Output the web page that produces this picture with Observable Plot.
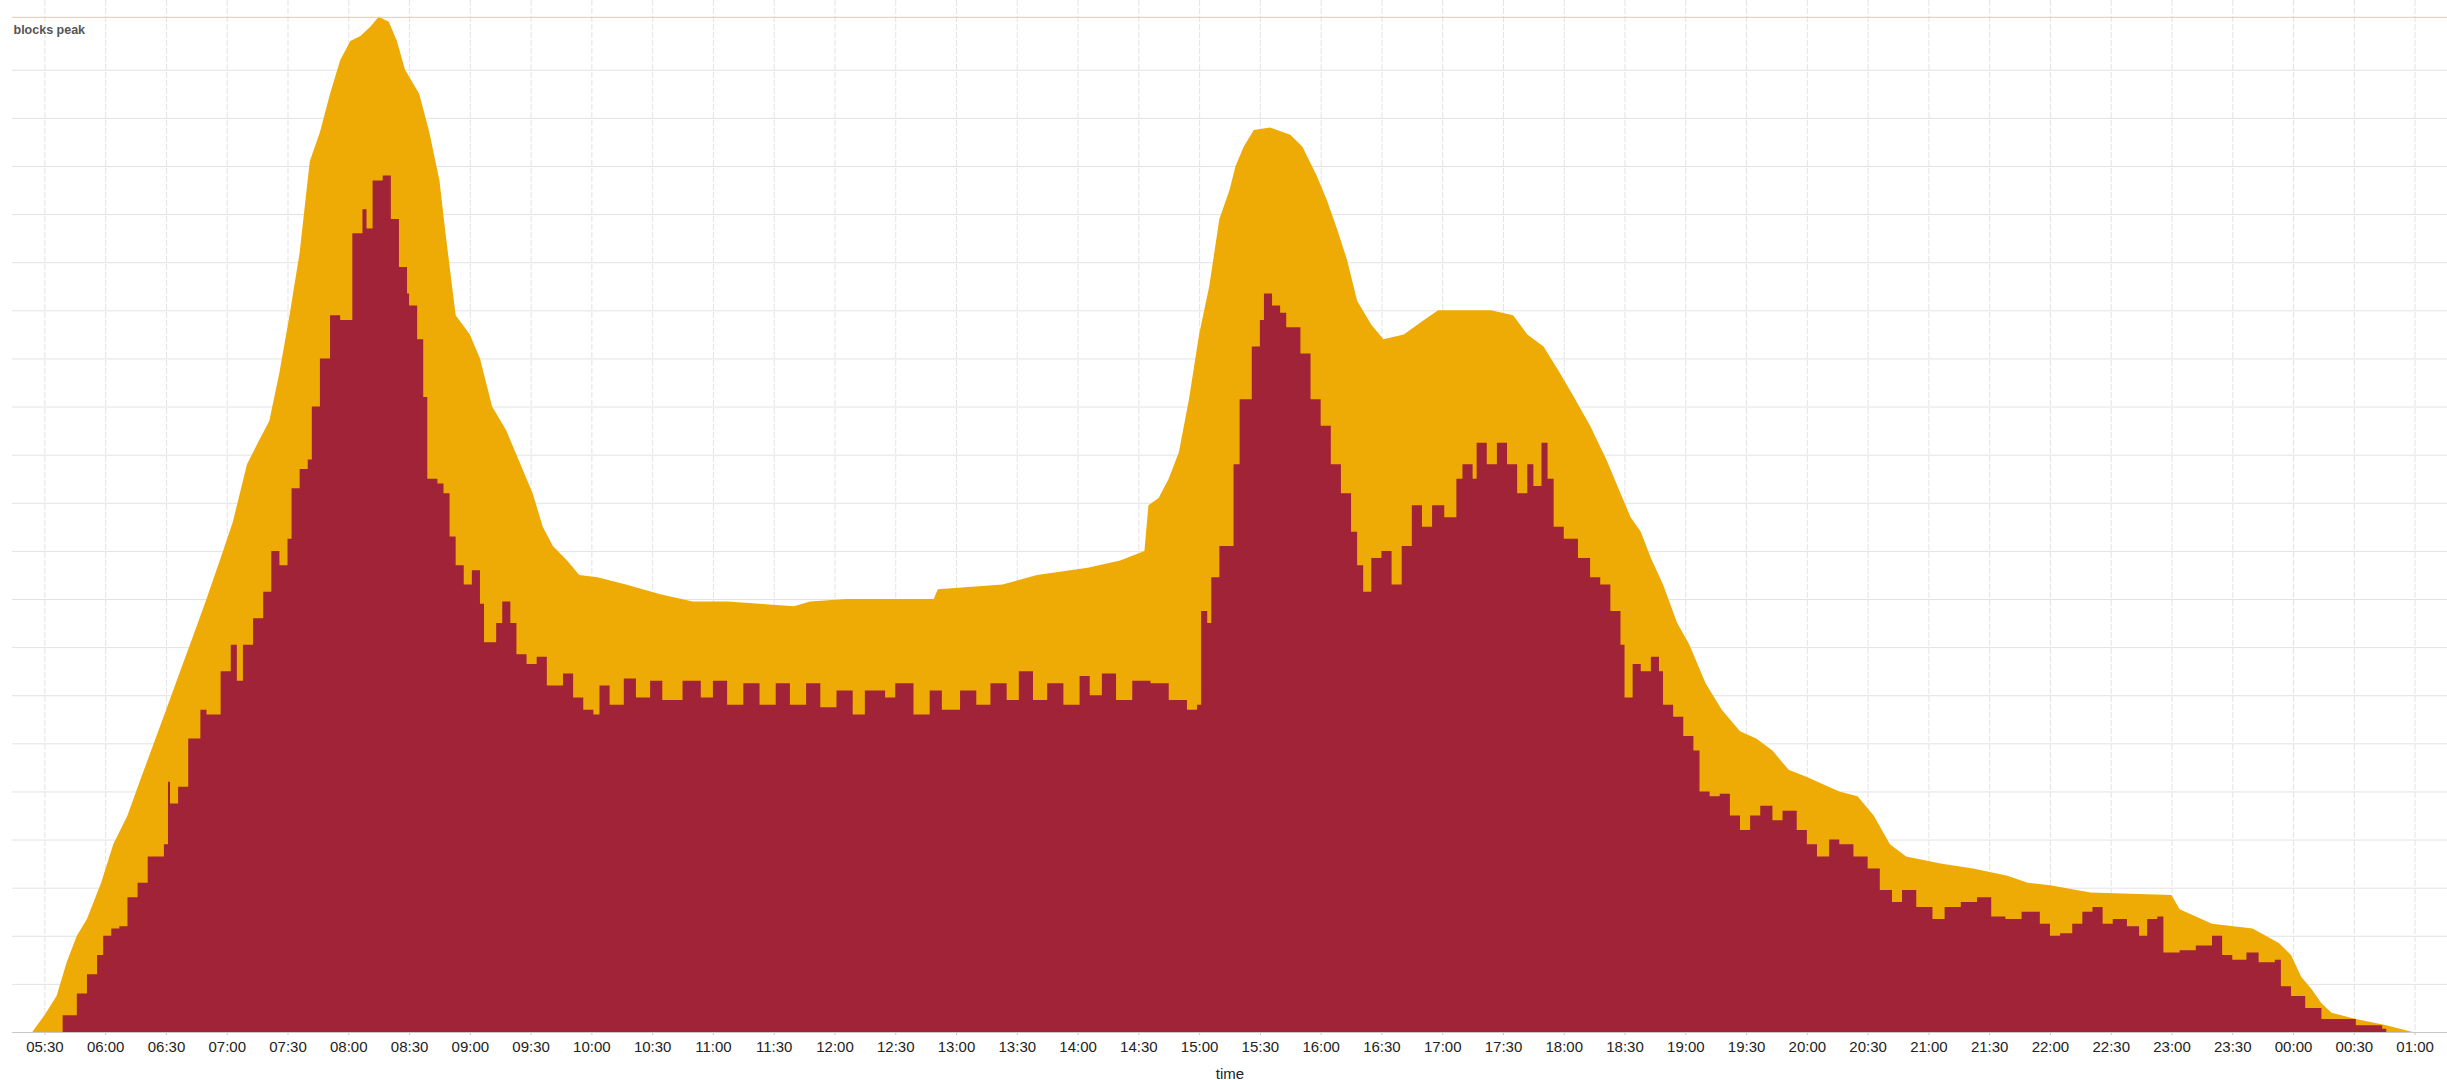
<!DOCTYPE html>
<html><head><meta charset="utf-8">
<script src="https://cdn.jsdelivr.net/npm/d3@7"></script>
<script src="https://cdn.jsdelivr.net/npm/@observablehq/plot@0.6"></script>
<style>
html,body{margin:0;padding:0;background:#fff;}
#chart{position:absolute;left:11px;top:0;}
#chart svg{display:block;background:linear-gradient(to bottom,#fff 0,#fff 1032px,#efefef 1032px,#efefef 100%);}
</style></head><body><div id="chart"></div>
<script>
// x-axis tick labels (every 30 minutes)
const tickLabels = ["05:30","06:00","06:30","07:00","07:30","08:00","08:30","09:00","09:30","10:00","10:30","11:00","11:30","12:00","12:30","13:00","13:30","14:00","14:30","15:00","15:30","16:00","16:30","17:00","17:30","18:00","18:30","19:00","19:30","20:00","20:30","21:00","21:30","22:00","22:30","23:00","23:30","00:00","00:30","01:00"];
const xStart = "05:14";
const xEnd = "01:16";

// upper (orange) series: time, blocks
const peakTimes = ["05:24","05:30","05:36","05:41","05:46","05:51","05:58","06:04","06:11","06:17","06:24","06:31","06:37","06:44","06:50","06:57","07:03","07:10","07:16","07:21","07:26","07:31","07:36","07:41","07:46","07:51","07:56","08:01","08:06","08:11","08:15","08:20","08:24","08:28","08:35","08:40","08:45","08:48","08:53","09:00","09:05","09:11","09:18","09:25","09:31","09:36","09:41","09:48","09:54","10:03","10:17","10:34","10:50","11:07","11:23","11:40","11:48","12:06","12:49","12:51","13:23","13:40","14:05","14:21","14:33","14:35","14:40","14:45","14:50","14:55","15:00","15:05","15:10","15:15","15:18","15:22","15:27","15:35","15:45","15:51","15:58","16:03","16:08","16:13","16:18","16:25","16:31","16:41","16:51","16:58","17:10","17:24","17:35","17:42","17:50","17:58","18:05","18:13","18:21","18:28","18:33","18:38","18:43","18:49","18:56","19:02","19:10","19:18","19:27","19:35","19:43","19:51","20:00","20:08","20:16","20:25","20:33","20:41","20:49","21:06","21:22","21:39","21:49","22:00","22:20","23:00","23:04","23:20","23:40","23:53","23:59","00:04","00:09","00:14","00:19","00:31","00:46","00:59"];
const peakValues = [0,35,75,145,200,235,310,390,450,520,600,680,750,830,900,985,1060,1180,1230,1270,1370,1490,1620,1810,1870,1950,2020,2060,2070,2090,2110,2100,2060,2000,1950,1870,1770,1660,1490,1450,1400,1300,1250,1180,1120,1050,1010,980,950,945,930,910,895,895,890,885,895,900,900,920,930,950,965,980,1000,1095,1110,1150,1205,1315,1450,1550,1690,1750,1800,1840,1875,1880,1865,1840,1780,1730,1670,1605,1520,1470,1440,1450,1480,1500,1500,1500,1490,1450,1425,1370,1320,1260,1190,1120,1070,1040,985,930,850,805,725,670,625,610,585,545,530,515,500,490,450,390,365,350,340,325,310,305,290,285,255,225,215,185,160,115,90,60,40,27,14,0];

// lower (red) series: time, blocks
const usedTimes = ["05:39","05:46","05:51","05:56","05:59","06:03","06:07","06:11","06:16","06:21","06:26","06:29","06:31","06:32","06:36","06:41","06:47","06:50","06:57","07:02","07:05","07:08","07:13","07:18","07:22","07:26","07:30","07:32","07:36","07:40","07:42","07:46","07:51","07:56","07:59","08:02","08:07","08:09","08:12","08:17","08:21","08:25","08:29","08:30","08:34","08:37","08:39","08:44","08:47","08:50","08:53","08:57","09:01","09:05","09:07","09:13","09:16","09:20","09:23","09:28","09:33","09:38","09:46","09:51","09:56","10:01","10:04","10:09","10:16","10:22","10:29","10:35","10:45","10:54","11:00","11:07","11:15","11:23","11:31","11:38","11:46","11:53","12:01","12:09","12:15","12:25","12:30","12:39","12:47","12:53","13:02","13:10","13:17","13:25","13:31","13:38","13:45","13:53","14:01","14:06","14:12","14:19","14:27","14:36","14:45","14:54","14:59","15:01","15:04","15:06","15:10","15:14","15:17","15:20","15:23","15:26","15:30","15:32","15:36","15:40","15:43","15:46","15:50","15:55","16:00","16:05","16:10","16:15","16:18","16:21","16:25","16:30","16:35","16:40","16:45","16:50","16:55","17:01","17:07","17:10","17:15","17:17","17:22","17:27","17:32","17:37","17:42","17:45","17:49","17:52","17:55","18:00","18:07","18:13","18:18","18:23","18:28","18:30","18:34","18:38","18:43","18:47","18:49","18:54","18:59","19:04","19:07","19:12","19:17","19:22","19:27","19:32","19:37","19:43","19:48","19:55","20:00","20:05","20:11","20:16","20:23","20:30","20:36","20:42","20:47","20:54","21:02","21:08","21:16","21:24","21:31","21:38","21:46","21:55","22:00","22:05","22:11","22:16","22:21","22:26","22:31","22:38","22:44","22:48","22:53","22:56","23:04","23:12","23:20","23:25","23:30","23:37","23:43","23:51","23:54","23:59","00:06","00:14","00:31","00:44","00:46"];
const usedValues = [35,80,120,160,200,215,220,280,310,365,365,390,520,475,510,610,670,660,750,805,730,805,860,915,1000,970,1025,1130,1170,1190,1300,1400,1490,1480,1480,1660,1710,1670,1770,1780,1690,1590,1535,1510,1440,1320,1150,1140,1120,1030,970,930,960,890,810,850,895,850,785,765,780,720,745,695,670,660,720,680,735,695,730,690,730,695,730,680,725,680,725,680,725,675,710,660,710,695,725,660,710,670,710,680,725,690,750,690,725,680,740,700,745,690,730,725,690,670,680,875,850,945,1010,1010,1180,1315,1315,1425,1480,1535,1510,1495,1465,1465,1410,1315,1260,1180,1120,1040,970,915,985,1000,930,1010,1095,1050,1095,1070,1150,1180,1150,1225,1180,1225,1180,1120,1180,1135,1225,1150,1050,1025,985,945,930,875,805,695,765,750,780,750,680,655,615,585,500,490,495,450,420,450,470,440,460,420,390,365,400,390,365,340,295,270,295,260,235,260,270,280,240,235,250,225,200,205,225,250,260,225,235,220,200,235,240,165,170,180,200,160,150,165,145,150,95,75,50,27,14,7,0];

const gridStep = 100;
const gridMax = 2000;

function toDate(s) {
  const [h, m] = s.split(":").map(Number);
  return new Date(Date.UTC(2024, 0, h < 5 ? 2 : 1, h, m));
}
const peakData = peakTimes.map((t, i) => ({t: toDate(t), v: peakValues[i]}));
const usedData = usedTimes.map((t, i) => ({t: toDate(t), v: usedValues[i]}));
const tickDates = tickLabels.map(toDate);
const peak = d3.max(peakValues);

const chart = Plot.plot({
  width: 2436,
  height: 1080,
  marginLeft: 1,
  marginRight: 0,
  marginTop: 0,
  marginBottom: 48,
  style: {background: "transparent", fontFamily: "'Liberation Sans', Arial, sans-serif"},
  x: {type: "utc", domain: [toDate(xStart), toDate(xEnd)], label: null},
  y: {domain: [0, 2145], axis: null},
  marks: [
    Plot.gridX(tickDates, {stroke: "#e3e3e3", strokeOpacity: 1, strokeDasharray: "6,2"}),
    Plot.gridY(d3.range(gridStep, gridMax + 1, gridStep), {stroke: "#e3e3e3", strokeOpacity: 1}),
    Plot.areaY(peakData, {x: "t", y: "v", curve: "linear", fill: "#EEAA05"}),
    Plot.areaY(usedData, {x: "t", y: "v", curve: "step-after", fill: "#A02337"}),
    Plot.ruleY([peak], {stroke: "#f6c3a0", strokeWidth: 1}),
    Plot.ruleY([0], {stroke: "#c9c9c9"}),
    Plot.text([{label: "blocks peak", v: peak}], {y: "v", text: "label", frameAnchor: "left", textAnchor: "start", dx: 1, dy: 13, fontSize: 12.5, fontWeight: "bold", fill: "#555"}),
    Plot.axisX({ticks: tickDates, tickFormat: d3.utcFormat("%H:%M"), tickSize: 3, tickPadding: 6, fontSize: 15, fill: "#222", stroke: "#c8c8c8", label: "time", labelAnchor: "center", labelArrow: "none", labelOffset: 46})
  ]
});
document.getElementById("chart").appendChild(chart);
</script>
</body></html>
